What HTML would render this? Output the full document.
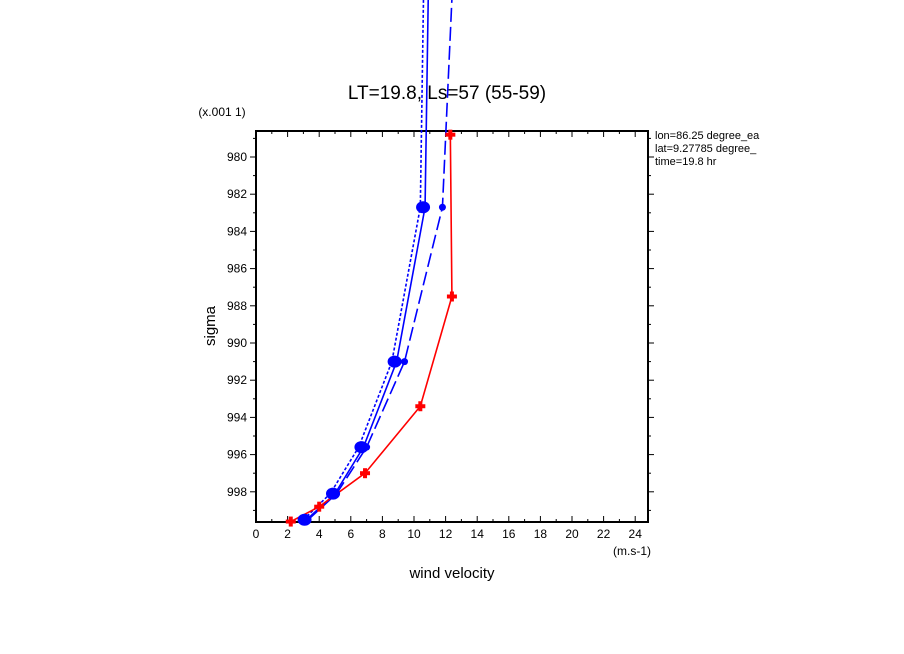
<!DOCTYPE html>
<html><head><meta charset="utf-8"><style>body{margin:0;background:#fff}svg{display:block}text{font-family:"Liberation Sans",sans-serif}</style></head>
<body>
<svg id="c" width="904" height="654">
<text x="447" y="99" font-size="19" text-anchor="middle">LT=19.8, Ls=57 (55-59)</text>
<text x="222" y="116" font-size="12" text-anchor="middle">(x.001 1)</text>
<text x="632" y="555" font-size="12" text-anchor="middle">(m.s-1)</text>
<text x="452" y="578" font-size="15" text-anchor="middle">wind velocity</text>
<text x="215" y="326" font-size="15" text-anchor="middle" transform="rotate(-90 215 326)">sigma</text>
<g font-size="11">
<text x="655" y="139">lon=86.25 degree_ea</text>
<text x="655" y="152">lat=9.27785 degree_</text>
<text x="655" y="165">time=19.8 hr</text>
</g>
<g id="axes"></g>
<g id="series"></g>
</svg>
<script>
const xTicks=[0,2,4,6,8,10,12,14,16,18,20,22,24];
const yTicks=[980,982,984,986,988,990,992,994,996,998];
const redX=[2.2,4.0,6.9,10.4,12.4,12.3];
const redY=[999.6,998.8,997.0,993.4,987.5,978.8];
const solidX=[3.2,5.0,6.8,8.9,10.7,10.9];
const solidY=[999.5,998.1,995.6,991.0,982.7,971.5];
const dotX=[3.0,4.7,6.5,8.6,10.4,10.6];
const dotY=[999.5,998.1,995.6,991.0,982.7,971.5];
const dashX=[3.3,5.1,7.0,9.4,11.8,12.4];
const dashY=[999.5,998.1,995.6,991.0,982.7,971.5];
const X0=256,X1=648,Y0=131,Y1=522;
const xs=v=>256+v*15.8;
const ys=v=>157+(v-980)*18.6;
const NS="http://www.w3.org/2000/svg";
function mk(t,a,p){const e=document.createElementNS(NS,t);for(const k in a)e.setAttribute(k,a[k]);p.appendChild(e);return e;}
const ax=document.getElementById('axes');
const fr=mk('rect',{x:X0,y:Y0,width:X1-X0,height:Y1-Y0,fill:'none',stroke:'#000','stroke-width':2},ax);


for(let v=0;v<=24.8;v+=1){const x=xs(v);const maj=v%2===0;
mk('line',{x1:x,x2:x,y1:Y1,y2:Y1-(maj?6:3),stroke:'#000'},ax);
mk('line',{x1:x,x2:x,y1:Y0,y2:Y0+(maj?6:3),stroke:'#000'},ax);}
xTicks.forEach(v=>{const t=mk('text',{x:xs(v),y:538,'font-size':12,'text-anchor':'middle'},ax);t.textContent=v;

});
for(let v=979;v<=999;v+=1){const y=ys(v);const maj=v%2===0;
mk('line',{x1:X0,x2:X0-(maj?6:3),y1:y,y2:y,stroke:'#000'},ax);
mk('line',{x1:X1,x2:X1+(maj?6:3),y1:y,y2:y,stroke:'#000'},ax);}
yTicks.forEach(v=>{const t=mk('text',{x:X0-9,y:ys(v)+4,'font-size':12,'text-anchor':'end'},ax);t.textContent=v;

});
const sg=document.getElementById('series');
function line(X,Y,col,dash,name){const p=mk('polyline',{points:X.map((x,i)=>xs(x)+','+ys(Y[i])).join(' '),fill:'none',stroke:col,'stroke-width':1.6,'stroke-dasharray':dash},sg);

}
line(dotX,dotY,'#0000ff','3 2','blue-dotted-line');
line(dashX,dashY,'#0000ff','14 5','blue-dashed-line');
line(solidX,solidY,'#0000ff','none','blue-solid-line');
line(redX,redY,'#ff0000','none','red-line');
solidX.slice(0,5).forEach((x,i)=>{const c=mk('ellipse',{cx:xs(x)-2,cy:ys(solidY[i]),rx:7,ry:6,fill:'#0000ff'},sg);

});
dashX.slice(1,5).forEach((x,i)=>{const c=mk('circle',{cx:xs(x),cy:ys(dashY[i+1]),r:3.5,fill:'#0000ff'},sg);

});
redX.forEach((x,i)=>{const cx=xs(x),cy=ys(redY[i]);const g=mk('g',{},sg);


mk('rect',{x:cx-5,y:cy-2,width:10,height:4,fill:'#ff0000'},g);mk('rect',{x:cx-2,y:cy-5,width:4,height:10,fill:'#ff0000'},g);});
</script>
</body></html>
